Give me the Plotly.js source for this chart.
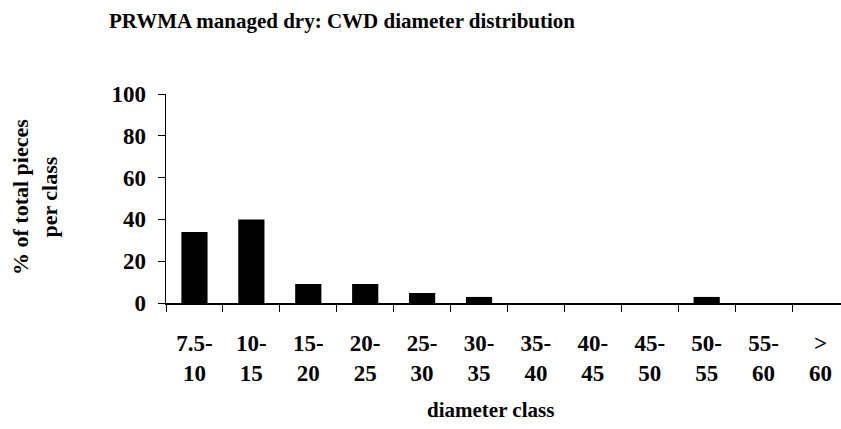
<!DOCTYPE html>
<html>
<head>
<meta charset="utf-8">
<script src="https://cdn.plot.ly/plotly-3.0.1.min.js"></script>
<style>
  html, body { margin: 0; padding: 0; background: #fff; overflow: hidden; }
  #chart { width: 841px; height: 429px; }
</style>
</head>
<body>
<div id="chart"></div>
<script>
const categories = ["7.5-10", "10-15", "15-20", "20-25", "25-30", "30-35", "35-40", "40-45", "45-50", "50-55", "55-60", ">60"];
const tickLabels = ["7.5-<br>10", "10-<br>15", "15-<br>20", "20-<br>25", "25-<br>30", "30-<br>35", "35-<br>40", "40-<br>45", "45-<br>50", "50-<br>55", "55-<br>60", "&gt;<br>60"];
const percentPieces = [34, 40, 9.1, 9.1, 4.8, 2.9, 0, 0, 0, 2.9, 0, 0];
const yTicks = [0, 20, 40, 60, 80, 100];

const serif = "Liberation Serif, Times New Roman, serif";

const trace = {
  type: "bar",
  x: categories,
  y: percentPieces,
  marker: { color: "#000000", line: { width: 0 } },
  hoverinfo: "skip"
};

const layout = {
  width: 841,
  height: 429,
  paper_bgcolor: "#ffffff",
  plot_bgcolor: "#ffffff",
  margin: { l: 166, r: 0, t: 94, b: 126 },
  bargap: 0.54,
  showlegend: false,
  font: { family: serif, color: "#000000", size: 22, weight: "bold" },
  title: {
    text: "PRWMA managed dry: CWD diameter distribution",
    font: { family: serif, size: 21, weight: "bold", color: "#000" },
    xref: "container", x: 342 / 841, xanchor: "center",
    yref: "container", y: 1 - 21 / 429, yanchor: "middle"
  },
  xaxis: {
    type: "category",
    range: [-0.5, 11.36],
    tickmode: "array",
    tickvals: categories,
    ticktext: tickLabels,
    tickson: "boundaries",
    ticks: "outside",
    ticklen: 7,
    tickwidth: 1,
    tickcolor: "#000",
    showline: true,
    linecolor: "#000",
    linewidth: 1.5,
    showgrid: false,
    zeroline: false,
    ticklabelstandoff: 19,
    tickfont: { family: serif, size: 23, weight: "bold", color: "#000" },
    fixedrange: true
  },
  yaxis: {
    range: [0, 100],
    tickmode: "array",
    tickvals: yTicks,
    ticktext: yTicks.map(String),
    ticks: "outside",
    ticklen: 7,
    tickwidth: 1,
    tickcolor: "#000",
    showline: true,
    linecolor: "#000",
    linewidth: 1.5,
    showgrid: false,
    zeroline: false,
    ticklabelstandoff: 7,
    tickfont: { family: serif, size: 23, weight: "bold", color: "#000" },
    fixedrange: true
  },
  annotations: [
    {
      text: "diameter class",
      xref: "paper", yref: "paper",
      x: (490 - 166) / 675, y: (303 - 410) / 209,
      xanchor: "center", yanchor: "middle",
      showarrow: false,
      font: { family: serif, size: 21, weight: "bold", color: "#000" }
    },
    {
      text: "% of total pieces<br>per class",
      xref: "paper", yref: "paper",
      x: (35 - 166) / 675, y: (303 - 197) / 209,
      xanchor: "center", yanchor: "middle",
      textangle: -90,
      showarrow: false,
      font: { family: serif, size: 22, weight: "bold", color: "#000" }
    }
  ]
};

Plotly.newPlot("chart", [trace], layout, { staticPlot: true, displayModeBar: false });
</script>
</body>
</html>
